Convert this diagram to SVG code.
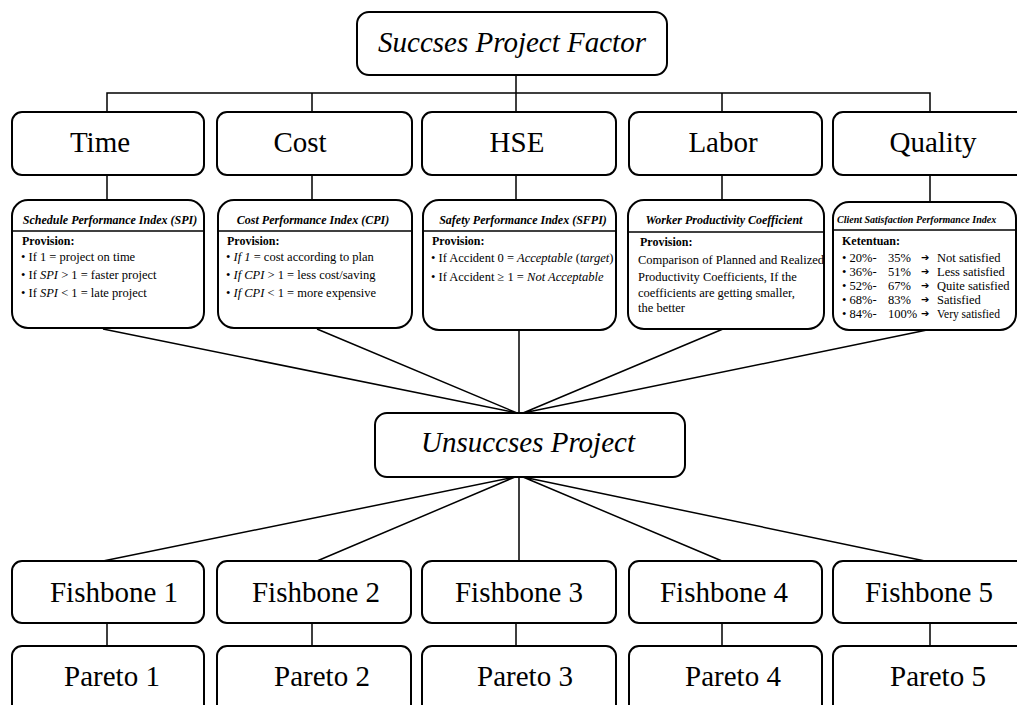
<svg xmlns="http://www.w3.org/2000/svg" width="1017" height="705" viewBox="0 0 1017 705">
<style>
.box{fill:#fff;stroke:#000;stroke-width:2}
.ln{stroke:#000;stroke-width:1.5;fill:none}
text{font-family:"Liberation Serif","Times New Roman",serif;fill:#000}
.big{font-size:29px;text-anchor:middle}
.it{font-style:italic}
.hd{font-size:12px;font-weight:bold;font-style:italic}
.pv{font-size:12px;font-weight:bold}
.tx{font-size:12.5px}
.ar{font-family:"DejaVu Sans",sans-serif;font-size:10px}
.c{text-anchor:middle}
</style>
<rect width="1017" height="705" fill="#fff"/>
<g id="connectors">
<path class="ln" d="M107 112V93H930V112M312 93V112M722 93V112M516 75V112"/>
<path class="ln" d="M107 175V200M312 175V200M516 175V200M722 175V200M930 175V202"/>
<path class="ln" d="M103 329L517 413M317 329L517 413M519 330V413M723 329L523 413M927 330L523 413"/>
<path class="ln" d="M515 477L103 561M515 477L317 561M519 477V561M523 477L722 561M523 477L925 561"/>
<path class="ln" d="M107 623V646M312 623V646M516 623V646M722 623V646M930 623V646"/>
</g>
<g id="succses">
<rect class="box" x="357" y="12" width="310" height="63" rx="12"/>
<text class="big it" x="512" y="52">Succses Project Factor</text>
</g>
<g id="time"><rect class="box" x="12" y="112" width="192" height="63" rx="10"/><text class="big" x="100" y="152">Time</text></g>
<g id="cost"><rect class="box" x="217" y="112" width="195" height="63" rx="10"/><text class="big" x="300" y="152">Cost</text></g>
<g id="hse"><rect class="box" x="422" y="112" width="194" height="63" rx="10"/><text class="big" x="517" y="152">HSE</text></g>
<g id="labor"><rect class="box" x="629" y="112" width="193" height="63" rx="10"/><text class="big" x="723" y="152">Labor</text></g>
<g id="quality"><rect class="box" x="833" y="112" width="200" height="63" rx="10"/><text class="big" x="933" y="152">Quality</text></g>

<g id="spi">
<rect class="box" x="12" y="200" width="192" height="128" rx="16"/>
<line class="ln" x1="12" y1="231" x2="204" y2="231" stroke-width="2"/>
<text class="hd c" x="110" y="224">Schedule Performance Index (SPI)</text>
<text class="pv" x="22" y="245">Provision:</text>
<text class="tx" x="21" y="261">• If 1 = project on time</text>
<text class="tx" x="21" y="279">• If <tspan class="it">SPI</tspan> &gt; 1 = faster project</text>
<text class="tx" x="21" y="297">• If <tspan class="it">SPI</tspan> &lt; 1 = late project</text>
</g>
<g id="cpi">
<rect class="box" x="218" y="200" width="194" height="128" rx="16"/>
<line class="ln" x1="218" y1="231" x2="412" y2="231" stroke-width="2"/>
<text class="hd c" x="313" y="224">Cost Performance Index (CPI)</text>
<text class="pv" x="227" y="245">Provision:</text>
<text class="tx" x="226" y="261">• <tspan class="it">If 1</tspan> = cost according to plan</text>
<text class="tx" x="226" y="279">• <tspan class="it">If CPI</tspan> &gt; 1 = less cost/saving</text>
<text class="tx" x="226" y="297">• <tspan class="it">If CPI</tspan> &lt; 1 = more expensive</text>
</g>
<g id="sfpi">
<rect class="box" x="423" y="200" width="193" height="130" rx="16"/>
<line class="ln" x1="423" y1="231" x2="616" y2="231" stroke-width="2"/>
<text class="hd c" x="523" y="224">Safety Performance Index (SFPI)</text>
<text class="pv" x="432" y="245">Provision:</text>
<text class="tx" x="431" y="262">• If Accident 0 = <tspan class="it">Acceptable</tspan> (<tspan class="it">target</tspan>)</text>
<text class="tx" x="431" y="281">• If Accident ≥ 1 = <tspan class="it">Not Acceptable</tspan></text>
</g>
<g id="wpc">
<rect class="box" x="628" y="200" width="196" height="129" rx="16"/>
<line class="ln" x1="628" y1="232" x2="824" y2="232" stroke-width="2"/>
<text class="hd c" x="724" y="224">Worker Productivity Coefficient</text>
<text class="pv" x="640" y="246">Provision:</text>
<text class="tx" x="638" y="264">Comparison of Planned and Realized</text>
<text class="tx" x="638" y="281">Productivity Coefficients, If the</text>
<text class="tx" x="638" y="297">coefficients are getting smaller,</text>
<text class="tx" x="638" y="312">the better</text>
</g>
<g id="csi">
<rect class="box" x="833" y="202" width="183" height="128" rx="16"/>
<line class="ln" x1="833" y1="230" x2="1016" y2="230" stroke-width="2"/>
<text class="hd" x="837" y="223" style="font-size:10px">Client Satisfaction Performance Index</text>
<text class="pv" x="842" y="245">Ketentuan:</text>
<text class="tx" x="842" y="262">• 20%-</text><text class="tx" x="888" y="262">35%</text><text class="ar" x="921" y="261">➔</text><text class="tx" x="937" y="262">Not satisfied</text>
<text class="tx" x="842" y="276">• 36%-</text><text class="tx" x="888" y="276">51%</text><text class="ar" x="921" y="275">➔</text><text class="tx" x="937" y="276">Less satisfied</text>
<text class="tx" x="842" y="290">• 52%-</text><text class="tx" x="888" y="290">67%</text><text class="ar" x="921" y="289">➔</text><text class="tx" x="937" y="290">Quite satisfied</text>
<text class="tx" x="842" y="304">• 68%-</text><text class="tx" x="888" y="304">83%</text><text class="ar" x="921" y="303">➔</text><text class="tx" x="937" y="304">Satisfied</text>
<text class="tx" x="842" y="318">• 84%-</text><text class="tx" x="888" y="318">100%</text><text class="ar" x="921" y="317">➔</text><text x="937" y="318" font-size="11.5px">Very satisfied</text>
</g>

<g id="unsuccses">
<rect class="box" x="375" y="413" width="310" height="64" rx="12"/>
<text class="big it" x="528" y="452">Unsuccses Project</text>
</g>

<g id="fishbone1"><rect class="box" x="12" y="561" width="192" height="62" rx="10"/><text class="big" x="114" y="602">Fishbone 1</text></g>
<g id="fishbone2"><rect class="box" x="217" y="561" width="194" height="62" rx="10"/><text class="big" x="316" y="602">Fishbone 2</text></g>
<g id="fishbone3"><rect class="box" x="422" y="561" width="194" height="62" rx="10"/><text class="big" x="519" y="602">Fishbone 3</text></g>
<g id="fishbone4"><rect class="box" x="629" y="561" width="193" height="62" rx="10"/><text class="big" x="724" y="602">Fishbone 4</text></g>
<g id="fishbone5"><rect class="box" x="833" y="561" width="200" height="62" rx="10"/><text class="big" x="929" y="602">Fishbone 5</text></g>

<g id="pareto1"><rect class="box" x="12" y="646" width="192" height="75" rx="10"/><text class="big" x="112" y="686">Pareto 1</text></g>
<g id="pareto2"><rect class="box" x="217" y="646" width="194" height="75" rx="10"/><text class="big" x="322" y="686">Pareto 2</text></g>
<g id="pareto3"><rect class="box" x="422" y="646" width="194" height="75" rx="10"/><text class="big" x="525" y="686">Pareto 3</text></g>
<g id="pareto4"><rect class="box" x="629" y="646" width="193" height="75" rx="10"/><text class="big" x="733" y="686">Pareto 4</text></g>
<g id="pareto5"><rect class="box" x="833" y="646" width="200" height="75" rx="10"/><text class="big" x="938" y="686">Pareto 5</text></g>
</svg>
